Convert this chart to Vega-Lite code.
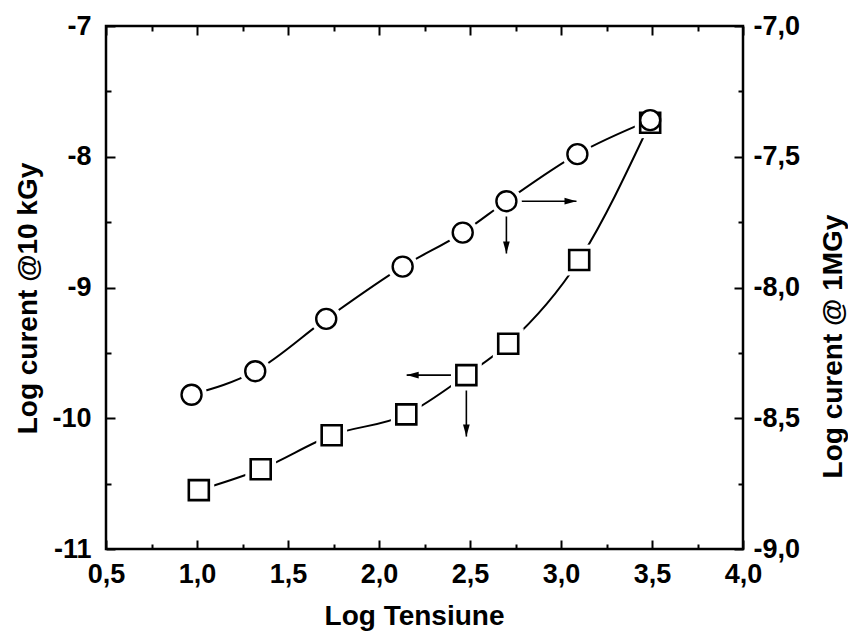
{
  "$schema": "https://vega.github.io/schema/vega-lite/v6.json",
  "width": 637,
  "height": 523,
  "autosize": {"type": "none"},
  "padding": {"left": 106, "top": 26, "right": 105, "bottom": 83},
  "background": "white",
  "datasets": {
    "sq": [
      {"v": 1.01, "i": -10.55},
      {"v": 1.35, "i": -10.39},
      {"v": 1.74, "i": -10.13},
      {"v": 2.15, "i": -9.97},
      {"v": 2.48, "i": -9.67},
      {"v": 2.71, "i": -9.43},
      {"v": 3.10, "i": -8.79},
      {"v": 3.49, "i": -7.74}
    ],
    "ci": [
      {"v": 0.97, "i": -8.41},
      {"v": 1.32, "i": -8.32},
      {"v": 1.71, "i": -8.12},
      {"v": 2.13, "i": -7.92},
      {"v": 2.46, "i": -7.79},
      {"v": 2.70, "i": -7.67},
      {"v": 3.09, "i": -7.49},
      {"v": 3.49, "i": -7.36}
    ],
    "arrSq": [
      {"v": 2.48, "i": -9.67, "v2": 2.152, "i2": -9.67},
      {"v": 2.48, "i": -9.67, "v2": 2.48, "i2": -10.14}
    ],
    "arrCi": [
      {"v": 2.70, "i": -7.67, "v2": 3.085, "i2": -7.67},
      {"v": 2.70, "i": -7.67, "v2": 2.70, "i2": -7.87}
    ],
    "headSq": [
      {"v": 2.152, "i": -9.67, "dir": "left"},
      {"v": 2.48, "i": -10.14, "dir": "down"}
    ],
    "headCi": [
      {"v": 3.085, "i": -7.67, "dir": "right"},
      {"v": 2.70, "i": -7.87, "dir": "down"}
    ]
  },
  "resolve": {
    "scale": {"x": "independent", "y": "independent"},
    "axis": {"x": "independent", "y": "independent"}
  },
  "layer": [
    {
      "data": {"name": "sq"},
      "mark": {"type": "line", "interpolate": "monotone", "color": "black", "strokeWidth": 2},
      "encoding": {
        "x": {"field": "v", "type": "quantitative",
          "scale": {"domain": [0.5, 4.0], "nice": false, "zero": false},
          "axis": {"orient": "bottom", "title": "Log Tensiune", "values": [0.5, 1.0, 1.5, 2.0, 2.5, 3.0, 3.5, 4.0],
            "tickSize": -9, "labelPadding": 21, "titlePadding": 15, "titleX": 308,
            "labelExpr": "replace(format(datum.value, '.1f'), '.', ',')"}},
        "y": {"field": "i", "type": "quantitative",
          "scale": {"domain": [-11, -7], "nice": false, "zero": false},
          "axis": {"orient": "left", "title": "Log curent @10 kGy", "values": [-11, -10, -9, -8, -7],
            "tickSize": -9, "labelPadding": 24, "titlePadding": 9, "titleY": 272,
            "labelExpr": "(datum.value < 0 ? '-' : '') + format(abs(datum.value), 'd')"}}
      }
    },
    {
      "data": {"name": "arrSq"},
      "mark": {"type": "rule", "color": "black", "strokeWidth": 1.6},
      "encoding": {
        "x": {"field": "v", "type": "quantitative",
          "scale": {"domain": [0.5, 4.0], "nice": false, "zero": false},
          "axis": {"orient": "bottom", "title": null, "labels": false,
            "values": [0.75, 1.25, 1.75, 2.25, 2.75, 3.25, 3.75], "tickSize": -5}},
        "x2": {"field": "v2"},
        "y": {"field": "i", "type": "quantitative",
          "scale": {"domain": [-11, -7], "nice": false, "zero": false},
          "axis": {"orient": "left", "title": null, "labels": false,
            "values": [-10.5, -9.5, -8.5, -7.5], "tickSize": -5}},
        "y2": {"field": "i2"}
      }
    },
    {
      "data": {"name": "ci"},
      "mark": {"type": "line", "interpolate": "monotone", "color": "black", "strokeWidth": 2},
      "encoding": {
        "x": {"field": "v", "type": "quantitative",
          "scale": {"domain": [0.5, 4.0], "nice": false, "zero": false},
          "axis": {"orient": "top", "title": null, "labels": false,
            "values": [0.5, 1.0, 1.5, 2.0, 2.5, 3.0, 3.5, 4.0], "tickSize": -9}},
        "y": {"field": "i", "type": "quantitative",
          "scale": {"domain": [-9, -7], "nice": false, "zero": false},
          "axis": {"orient": "right", "title": "Log curent @ 1MGy", "values": [-9, -8.5, -8, -7.5, -7],
            "tickSize": -9, "labelPadding": 19,
            "titleAngle": 270, "titleBaseline": "top", "titleAlign": "center", "titleX": 76, "titleY": 320,
            "labelExpr": "(datum.value < 0 ? '-' : '') + replace(format(abs(datum.value), '.1f'), '.', ',')"}}
      }
    },
    {
      "data": {"name": "arrCi"},
      "mark": {"type": "rule", "color": "black", "strokeWidth": 1.6},
      "encoding": {
        "x": {"field": "v", "type": "quantitative",
          "scale": {"domain": [0.5, 4.0], "nice": false, "zero": false},
          "axis": {"orient": "top", "title": null, "labels": false,
            "values": [0.75, 1.25, 1.75, 2.25, 2.75, 3.25, 3.75], "tickSize": -5}},
        "x2": {"field": "v2"},
        "y": {"field": "i", "type": "quantitative",
          "scale": {"domain": [-9, -7], "nice": false, "zero": false},
          "axis": {"orient": "right", "title": null, "labels": false,
            "values": [-8.75, -8.25, -7.75, -7.25], "tickSize": -5}},
        "y2": {"field": "i2"}
      }
    },
    {
      "data": {"name": "sq"},
      "mark": {"type": "point", "shape": "square", "filled": true, "color": "white", "size": 950, "opacity": 1},
      "encoding": {
        "x": {"field": "v", "type": "quantitative", "scale": {"domain": [0.5, 4.0], "nice": false, "zero": false}, "axis": null},
        "y": {"field": "i", "type": "quantitative", "scale": {"domain": [-11, -7], "nice": false, "zero": false}, "axis": null}
      }
    },
    {
      "data": {"name": "ci"},
      "mark": {"type": "point", "shape": "circle", "filled": true, "color": "white", "size": 950, "opacity": 1},
      "encoding": {
        "x": {"field": "v", "type": "quantitative", "scale": {"domain": [0.5, 4.0], "nice": false, "zero": false}, "axis": null},
        "y": {"field": "i", "type": "quantitative", "scale": {"domain": [-9, -7], "nice": false, "zero": false}, "axis": null}
      }
    },
    {
      "data": {"name": "sq"},
      "mark": {"type": "point", "shape": "square", "filled": false, "stroke": "black", "fill": "white", "fillOpacity": 1, "strokeWidth": 2.6, "size": 400, "opacity": 1},
      "encoding": {
        "x": {"field": "v", "type": "quantitative", "scale": {"domain": [0.5, 4.0], "nice": false, "zero": false}, "axis": null},
        "y": {"field": "i", "type": "quantitative", "scale": {"domain": [-11, -7], "nice": false, "zero": false}, "axis": null}
      }
    },
    {
      "data": {"name": "ci"},
      "mark": {"type": "point", "shape": "circle", "filled": false, "stroke": "black", "fill": "white", "fillOpacity": 1, "strokeWidth": 2.4, "size": 400, "opacity": 1},
      "encoding": {
        "x": {"field": "v", "type": "quantitative", "scale": {"domain": [0.5, 4.0], "nice": false, "zero": false}, "axis": null},
        "y": {"field": "i", "type": "quantitative", "scale": {"domain": [-9, -7], "nice": false, "zero": false}, "axis": null}
      }
    },
    {
      "data": {"name": "headSq"},
      "mark": {"type": "point", "filled": true, "color": "black", "size": 576, "opacity": 1},
      "encoding": {
        "x": {"field": "v", "type": "quantitative", "scale": {"domain": [0.5, 4.0], "nice": false, "zero": false}, "axis": null},
        "y": {"field": "i", "type": "quantitative", "scale": {"domain": [-11, -7], "nice": false, "zero": false}, "axis": null},
        "shape": {"field": "dir", "type": "nominal", "legend": null,
          "scale": {"domain": ["left", "down", "right"],
            "range": ["M 0 0 L 1 -0.28 L 1 0.28 Z", "M 0 0 L -0.28 -1 L 0.28 -1 Z", "M 0 0 L -1 -0.28 L -1 0.28 Z"]}}
      }
    },
    {
      "data": {"name": "headCi"},
      "mark": {"type": "point", "filled": true, "color": "black", "size": 576, "opacity": 1},
      "encoding": {
        "x": {"field": "v", "type": "quantitative", "scale": {"domain": [0.5, 4.0], "nice": false, "zero": false}, "axis": null},
        "y": {"field": "i", "type": "quantitative", "scale": {"domain": [-9, -7], "nice": false, "zero": false}, "axis": null},
        "shape": {"field": "dir", "type": "nominal", "legend": null,
          "scale": {"domain": ["left", "down", "right"],
            "range": ["M 0 0 L 1 -0.28 L 1 0.28 Z", "M 0 0 L -0.28 -1 L 0.28 -1 Z", "M 0 0 L -1 -0.28 L -1 0.28 Z"]}}
      }
    }
  ],
  "config": {
    "view": {"stroke": "black", "strokeWidth": 2.5},
    "axis": {
      "domain": false, "grid": false,
      "tickColor": "black", "tickWidth": 2,
      "labelColor": "black", "titleColor": "black",
      "labelFont": "Liberation Sans", "titleFont": "Liberation Sans",
      "labelFontSize": 27, "titleFontSize": 28,
      "labelFontWeight": "bold", "titleFontWeight": "bold",
      "labelFlush": false, "labelOverlap": false
    }
  }
}
